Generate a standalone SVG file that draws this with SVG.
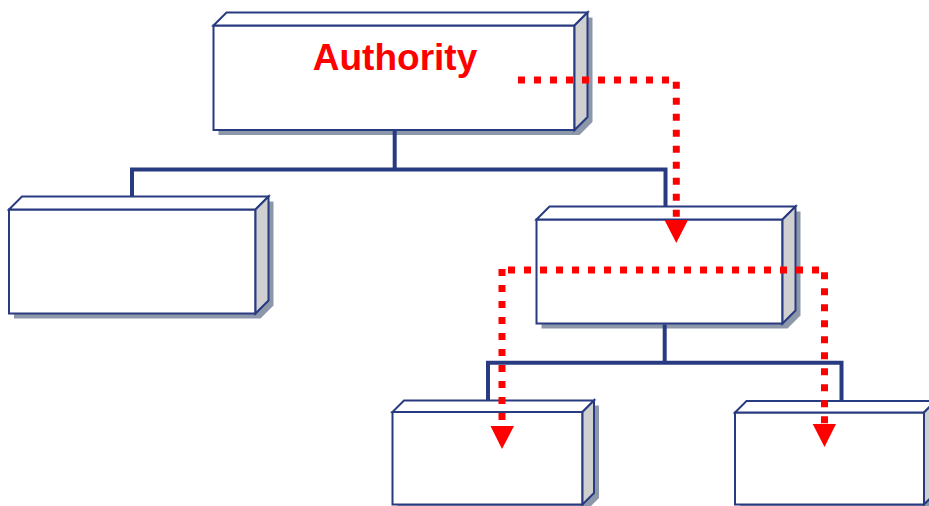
<svg xmlns="http://www.w3.org/2000/svg" width="929" height="506" viewBox="0 0 929 506">
<defs>
<style>
.shadow{fill:#8c98aa;stroke:none}
.front{fill:#ffffff;stroke:#283b80;stroke-width:2;stroke-linejoin:miter}
.top{fill:#ffffff;stroke:#283b80;stroke-width:2;stroke-linejoin:miter}
.side{fill:#d0d0d0;stroke:#283b80;stroke-width:2;stroke-linejoin:miter}
.tree{fill:none;stroke:#283b80;stroke-width:4;stroke-linecap:butt;stroke-linejoin:miter}
.flow{fill:none;stroke:#ff0000;stroke-width:7;stroke-dasharray:7 9;stroke-linecap:butt}
.head{fill:#ff0000;stroke:none}
.label{font-family:"Liberation Sans",Arial,sans-serif;font-weight:bold;font-size:37px;fill:#ff0000}
</style>
</defs>
<rect x="0" y="0" width="929" height="506" fill="#ffffff"/>

<g id="node-authority">
<polygon class="shadow" transform="translate(5,5)" points="213.5,25.5 226.5,12.5 587.5,12.5 587.5,117 574.5,130 213.5,130"/>
<rect class="front" x="213.5" y="25.5" width="361" height="104.5"/>
<polygon class="top" points="213.5,25.5 226.5,12.5 587.5,12.5 574.5,25.5"/>
<polygon class="side" points="574.5,25.5 587.5,12.5 587.5,117 574.5,130"/>
<text class="label" x="395" y="70" text-anchor="middle">Authority</text>
</g>

<g id="node-left">
<polygon class="shadow" transform="translate(5,5)" points="9,209.5 22,196.5 268.5,196.5 268.5,300.5 255.5,313.5 9,313.5"/>
<rect class="front" x="9" y="209.5" width="246.5" height="104"/>
<polygon class="top" points="9,209.5 22,196.5 268.5,196.5 255.5,209.5"/>
<polygon class="side" points="255.5,209.5 268.5,196.5 268.5,300.5 255.5,313.5"/>
</g>

<g id="node-middle">
<polygon class="shadow" transform="translate(5,5)" points="536.5,219.5 549.5,206.5 795.5,206.5 795.5,310.5 782.5,323.5 536.5,323.5"/>
<rect class="front" x="536.5" y="219.5" width="246" height="104"/>
<polygon class="top" points="536.5,219.5 549.5,206.5 795.5,206.5 782.5,219.5"/>
<polygon class="side" points="782.5,219.5 795.5,206.5 795.5,310.5 782.5,323.5"/>
</g>

<g id="node-bottom-left">
<polygon class="shadow" transform="translate(5,5)" points="392.5,412 404,400.5 594,400.5 594,493 582.5,504.5 392.5,504.5"/>
<rect class="front" x="392.5" y="412" width="190" height="92.5"/>
<polygon class="top" points="392.5,412 404,400.5 594,400.5 582.5,412"/>
<polygon class="side" points="582.5,412 594,400.5 594,493 582.5,504.5"/>
</g>

<g id="node-bottom-right">
<polygon class="shadow" transform="translate(5,5)" points="735,412.5 746.5,401 935.5,401 935.5,493 924,504.5 735,504.5"/>
<rect class="front" x="735" y="412.5" width="189" height="92"/>
<polygon class="top" points="735,412.5 746.5,401 935.5,401 924,412.5"/>
<polygon class="side" points="924,412.5 935.5,401 935.5,493 924,504.5"/>
</g>

<g id="connectors">
<path class="tree" d="M394.7,131 V169.5 M132,197 V169.5 H665.5 V207"/>
<path class="tree" d="M664.7,324.5 V362.7 M488,401 V362.7 H841.5 V401"/>
<path class="flow" d="M518,80 H676.3 V217"/>
<polygon class="head" points="664.5,220 688,220 676.3,243"/>
<path class="flow" d="M508,270 H828"/>
<path class="flow" d="M502,269 V420"/>
<path class="flow" d="M824.5,272.3 V424"/>
<polygon class="head" points="490.5,426 514,426 502,449"/>
<polygon class="head" points="812.7,424 836,424 824.5,447"/>
</g>
</svg>
